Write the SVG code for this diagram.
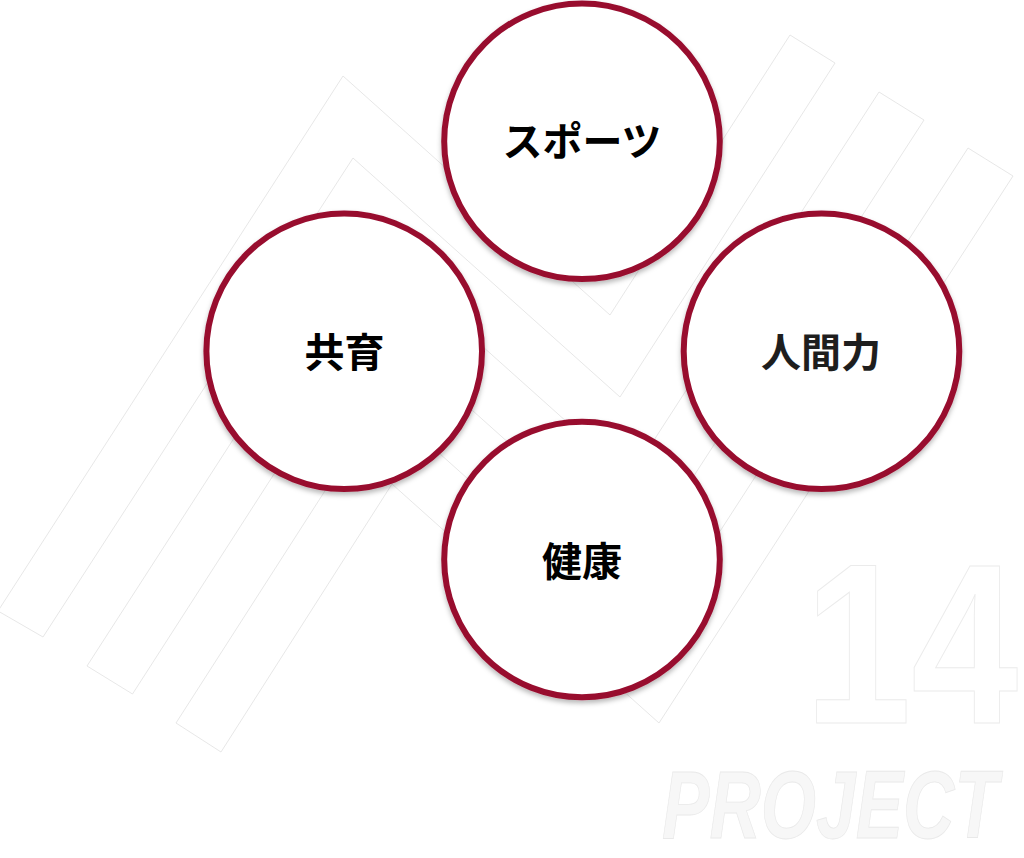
<svg xmlns="http://www.w3.org/2000/svg" width="1024" height="858" viewBox="0 0 1024 858">
  <style>
    .stripe { fill: none; stroke: #e4e4e4; stroke-width: 0.9; stroke-linejoin: miter; }
    .bignum { font-family: "Liberation Sans", Arial, sans-serif; font-weight: 700; font-size: 229px; fill: #ffffff; stroke: #ebebeb; stroke-width: 1; }
    .brand { font-family: "Liberation Sans", Arial, sans-serif; font-weight: 700; font-style: italic; font-size: 96px; fill: #f7f7f7; stroke: #e9e9e9; stroke-width: 0.8; }
    .ring { fill: #ffffff; stroke: #980d2f; stroke-width: 6; }
    .label { font-family: "Noto Sans CJK JP", "Noto Sans CJK SC", sans-serif; font-weight: 700; font-size: 40px; text-anchor: middle; fill: #000000; }
  </style>
  <defs>
    <filter id="shadow" x="-20%" y="-20%" width="140%" height="140%">
      <feDropShadow dx="0" dy="3" stdDeviation="2.5" flood-color="#000000" flood-opacity="0.28"/>
    </filter>
  </defs>
  <rect width="1024" height="858" fill="#ffffff"/>

  <g id="background">
    <polygon class="stripe" points="-2,611 343,76 610,315 790,35 835,63 620,397 353,158 43,637"/>
    <polygon class="stripe" points="87,666 362.5,239 629.5,478 879,92 924,120 639.5,560 372.5,321 132.5,694"/>
    <polygon class="stripe" points="176,723 382,402 649,641 968,148 1013,176 659,723 392,484 221,752"/>
    <text class="bignum" transform="translate(804.5,723) scale(0.839,1)" x="0" y="0">14</text>
    <text class="brand" transform="translate(662,838) scale(0.741,1)" x="0" y="0">PROJECT</text>
  </g>

  <g id="connectors"></g>

  <g id="node-sports">
    <circle class="ring" cx="582" cy="141.3" r="137.8" filter="url(#shadow)"/>
    <text class="label" x="582" y="156">スポーツ</text>
  </g>
  <g id="node-kyoiku">
    <circle class="ring" cx="344.2" cy="351.3" r="137.8" filter="url(#shadow)"/>
    <text class="label" x="344.5" y="367">共育</text>
  </g>
  <g id="node-ningenryoku">
    <circle class="ring" cx="821.5" cy="351.3" r="137.8" filter="url(#shadow)"/>
    <text class="label" x="821" y="367" style="fill:#1e1e1e">人間力</text>
  </g>
  <g id="node-kenko">
    <circle class="ring" cx="582" cy="559.5" r="137.8" filter="url(#shadow)"/>
    <text class="label" x="582" y="576">健康</text>
  </g>
</svg>
